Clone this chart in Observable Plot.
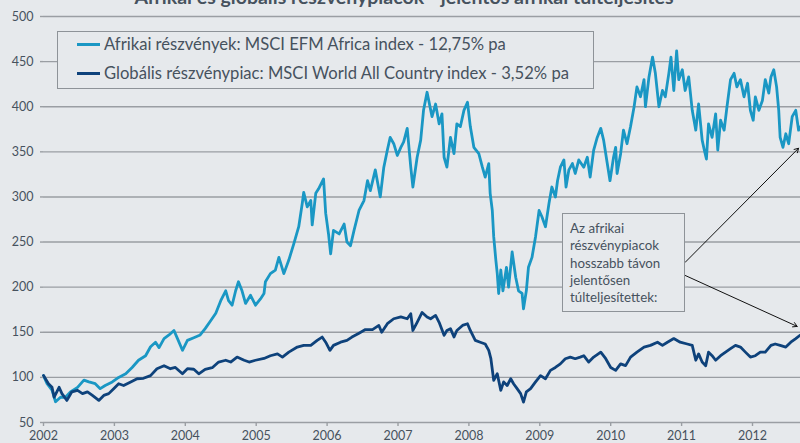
<!DOCTYPE html>
<html><head><meta charset="utf-8">
<script src="https://cdn.jsdelivr.net/npm/d3@7"></script>
<script src="https://cdn.jsdelivr.net/npm/@observablehq/plot@0.6"></script>
<style>
html,body{margin:0;padding:0;background:#e6e9ec;}
#wrap{position:relative;width:800px;height:443px;overflow:hidden;font-family:Lato,"Open Sans",sans-serif;color:#46525e;}
#wrap svg{position:absolute;left:0;top:0;}
.box{position:absolute;border:1.5px solid #8e9398;background:#e6e9ec;box-sizing:border-box;}
.title{position:absolute;left:0;width:808px;text-align:center;top:-13px;font-weight:bold;font-size:19.5px;line-height:20px;color:#46525e;white-space:nowrap;}
.leg{position:absolute;left:77px;font-size:16.6px;line-height:20px;white-space:nowrap;}
.sw{display:inline-block;width:23px;height:3px;vertical-align:middle;margin-right:4px;position:relative;top:-1px;}
.note{position:absolute;font-size:13.3px;line-height:17.3px;}
</style></head><body><div id="wrap"></div>
<script>
const title = "Afrikai és globális részvénypiacok - jelentős afrikai túlteljesítés";
const seriesNames = [
  "Afrikai részvények: MSCI EFM Africa index - 12,75% pa",
  "Globális részvénypiac: MSCI World All Country index - 3,52% pa"
];
const noteLines = ["Az afrikai", "részvénypiacok", "hosszabb távon", "jelentősen", "túlteljesítettek:"];
const yearTicks = [2002, 2003, 2004, 2005, 2006, 2007, 2008, 2009, 2010, 2011, 2012];
const valueTicks = [50, 100, 150, 200, 250, 300, 350, 400, 450, 500];
const xEnd = 2012.677;

// [decimal year, index value]
const africa = [
[2002.00,102],[2002.05,93],[2002.12,86],[2002.17,73],[2002.24,78],[2002.31,78],[2002.38,84],[2002.48,89],[2002.57,97],[2002.64,95],
[2002.73,93],[2002.80,87.5],[2002.87,91],[2002.97,95],[2003.06,100],[2003.16,104],[2003.25,111],[2003.34,119],[2003.44,124],[2003.51,134],
[2003.58,139],[2003.63,133],[2003.70,143],[2003.77,147],[2003.84,152],[2003.89,143],[2003.96,130],[2004.03,141],[2004.12,144],[2004.21,147],
[2004.28,154],[2004.36,163],[2004.43,171],[2004.50,185],[2004.57,196],[2004.61,185],[2004.66,180],[2004.71,196],[2004.75,206],[2004.80,196],
[2004.85,182],[2004.92,191],[2004.99,180],[2005.06,187],[2005.11,193],[2005.13,206],[2005.20,215],[2005.27,219],[2005.32,233],[2005.39,215],
[2005.46,230],[2005.53,248],[2005.60,267],[2005.65,293],[2005.67,305],[2005.72,289],[2005.77,296],[2005.79,269],[2005.84,304],[2005.88,309],
[2005.95,320],[2005.98,282],[2006.02,259],[2006.05,237],[2006.09,263],[2006.17,259],[2006.24,270],[2006.28,250],[2006.33,246],[2006.38,263],
[2006.45,285],[2006.52,296],[2006.57,318],[2006.61,307],[2006.68,330],[2006.75,300],[2006.80,333],[2006.85,352],[2006.89,366],[2006.94,359],
[2006.99,346],[2007.04,355],[2007.08,361],[2007.13,376],[2007.18,333],[2007.21,311],[2007.27,344],[2007.32,363],[2007.36,396],[2007.41,416],
[2007.48,389],[2007.53,403],[2007.58,381],[2007.62,392],[2007.65,344],[2007.69,333],[2007.74,366],[2007.79,348],[2007.83,381],[2007.88,378],
[2007.93,396],[2007.98,405],[2008.02,378],[2008.07,355],[2008.14,348],[2008.19,333],[2008.23,322],[2008.28,337],[2008.30,304],[2008.33,285],
[2008.35,256],[2008.38,230],[2008.40,215],[2008.42,193],[2008.45,219],[2008.48,196],[2008.53,222],[2008.56,200],[2008.61,239],[2008.66,211],
[2008.70,196],[2008.75,193],[2008.77,176],[2008.81,196],[2008.84,222],[2008.89,233],[2008.94,256],[2008.99,285],[2009.03,278],[2009.08,267],
[2009.13,293],[2009.17,311],[2009.22,300],[2009.25,318],[2009.29,333],[2009.34,341],[2009.37,311],[2009.41,330],[2009.46,337],[2009.50,326],
[2009.55,341],[2009.62,333],[2009.67,344],[2009.71,322],[2009.76,352],[2009.81,366],[2009.86,376],[2009.90,363],[2009.95,338],[2009.99,318],
[2010.04,344],[2010.07,355],[2010.09,326],[2010.14,348],[2010.18,374],[2010.23,359],[2010.28,378],[2010.33,400],[2010.37,422],[2010.42,411],
[2010.47,430],[2010.49,400],[2010.54,433],[2010.59,455],[2010.63,437],[2010.68,400],[2010.73,418],[2010.77,411],[2010.82,437],[2010.85,455],
[2010.89,418],[2010.93,462],[2010.96,430],[2011.01,441],[2011.05,418],[2011.10,433],[2011.15,396],[2011.20,374],[2011.24,403],[2011.29,363],
[2011.32,352],[2011.35,342],[2011.38,381],[2011.43,366],[2011.48,392],[2011.51,352],[2011.55,385],[2011.60,374],[2011.64,400],[2011.69,430],
[2011.74,437],[2011.78,422],[2011.83,430],[2011.88,411],[2011.93,426],[2011.97,396],[2012.01,385],[2012.04,411],[2012.09,396],[2012.14,407],
[2012.18,430],[2012.23,415],[2012.26,433],[2012.30,441],[2012.34,422],[2012.37,396],[2012.39,366],[2012.43,355],[2012.47,370],[2012.51,359],
[2012.56,389],[2012.61,396],[2012.65,374],[2012.68,378]
];

const world = [
[2002.00,102],[2002.07,93],[2002.12,89],[2002.15,78],[2002.22,89],[2002.26,82],[2002.33,74.5],[2002.40,84],[2002.48,85.6],[2002.55,82],
[2002.62,84],[2002.69,80],[2002.78,74.5],[2002.85,80],[2002.92,82],[2002.99,87.5],[2003.06,93],[2003.13,91],[2003.23,95],[2003.32,98.5],
[2003.41,99],[2003.51,102],[2003.60,109.6],[2003.70,113],[2003.79,109.6],[2003.86,111],[2003.96,104],[2004.03,109.6],[2004.12,109],[2004.19,104],
[2004.28,109],[2004.38,110.7],[2004.47,117],[2004.57,119],[2004.64,117],[2004.73,122.5],[2004.83,119],[2004.90,117],[2004.99,119],[2005.11,121],
[2005.20,124],[2005.30,126],[2005.37,122.5],[2005.46,128],[2005.58,133.6],[2005.67,135.5],[2005.77,135.5],[2005.86,141],[2005.93,144.7],[2005.98,139],
[2006.04,130],[2006.09,135.5],[2006.19,139],[2006.28,141],[2006.35,144.7],[2006.45,149],[2006.54,153],[2006.64,153],[2006.73,157.6],[2006.77,150],
[2006.85,159.5],[2006.94,165],[2007.04,167],[2007.13,165],[2007.18,170.6],[2007.21,152],[2007.27,161],[2007.34,172],[2007.41,167],[2007.46,165],
[2007.53,168.7],[2007.58,161],[2007.65,146.6],[2007.69,152],[2007.74,154],[2007.79,144.7],[2007.83,152],[2007.91,157.6],[2007.98,159.5],[2008.02,152],
[2008.09,141],[2008.16,139],[2008.23,137],[2008.28,130],[2008.31,120.7],[2008.35,96.7],[2008.40,104],[2008.45,85.6],[2008.49,95],[2008.54,91],
[2008.59,98.5],[2008.63,93],[2008.68,87.5],[2008.73,82],[2008.77,72.6],[2008.81,84],[2008.87,87.5],[2008.94,95],[2009.01,102],[2009.08,98.5],
[2009.15,107.8],[2009.22,111],[2009.29,115],[2009.36,120.7],[2009.43,122.5],[2009.50,120.7],[2009.57,122.5],[2009.62,124],[2009.69,117],[2009.76,122.5],
[2009.86,128],[2009.93,120.7],[2010.00,111],[2010.07,107.8],[2010.14,115],[2010.21,113],[2010.28,122.5],[2010.37,128],[2010.47,133.6],[2010.56,135.5],
[2010.66,139],[2010.73,135.5],[2010.80,139],[2010.89,143],[2010.98,139],[2011.08,137],[2011.15,135.5],[2011.20,119],[2011.24,126],[2011.29,117],
[2011.34,113],[2011.38,128],[2011.43,124],[2011.48,119],[2011.55,124],[2011.62,128],[2011.69,131.8],[2011.76,135.5],[2011.83,133.6],[2011.90,128],
[2011.97,122.5],[2012.04,124],[2012.11,128],[2012.18,128],[2012.26,135.5],[2012.32,137],[2012.39,135.5],[2012.47,133.6],[2012.54,139],[2012.61,143],
[2012.67,146.6]
];

// annotation arrows in data units: from note box edge to the series
const arrows = [
  {x1: 2011.05, y1: 227.5, x2: 2012.65, y2: 354},
  {x1: 2011.05, y1: 213, x2: 2012.63, y2: 156.5}
];

const colors = ["#1a97c4", "#0e427b"];
const textColor = "#46525e";
const gridColor = "#9a9ea3";

const toRows = arr => arr.map(([t, v]) => ({t, v}));

const chart = Plot.plot({
  width: 800, height: 443,
  marginTop: 16, marginBottom: 21, marginLeft: 43, marginRight: 0,
  style: {background: "transparent", fontFamily: "Lato, 'Open Sans', sans-serif", fontSize: "12.5px", color: textColor, overflow: "visible"},
  x: {domain: [2002, xEnd]},
  y: {domain: [50, 500]},
  marks: [
    Plot.ruleY(valueTicks, {stroke: gridColor, strokeWidth: 1.4}),
    Plot.line(toRows(africa), {x: "t", y: "v", stroke: colors[0], strokeWidth: 2.8, strokeLinejoin: "round"}),
    Plot.line(toRows(world), {x: "t", y: "v", stroke: colors[1], strokeWidth: 2.8, strokeLinejoin: "round"}),
    Plot.arrow(arrows, {x1: "x1", y1: "y1", x2: "x2", y2: "y2", stroke: "#111", strokeWidth: 1, headLength: 7}),
    Plot.axisY({ticks: valueTicks, tickSize: 3, tickPadding: 7, stroke: gridColor, fill: textColor, strokeWidth: 1.4, fontSize: 12.5}),
    Plot.axisX({ticks: yearTicks, tickFormat: d => String(d), tickSize: 4, tickPadding: 5, stroke: gridColor, fill: textColor, strokeWidth: 1.4, fontSize: 12.5})
  ]
});

const wrap = document.getElementById("wrap");
wrap.appendChild(chart);

const t = document.createElement("div");
t.className = "title"; t.textContent = title; wrap.appendChild(t);

const legend = document.createElement("div");
legend.className = "box";
Object.assign(legend.style, {left: "57px", top: "31px", width: "537px", height: "58px"});
wrap.appendChild(legend);
seriesNames.forEach((name, i) => {
  const d = document.createElement("div");
  d.className = "leg";
  d.style.top = (i === 0 ? 34 : 63) + "px";
  d.innerHTML = `<span class="sw" style="background:${colors[i]}"></span>`;
  d.appendChild(document.createTextNode(name));
  wrap.appendChild(d);
});

const note = document.createElement("div");
note.className = "box";
Object.assign(note.style, {left: "562px", top: "213px", width: "123px", height: "99px"});
wrap.appendChild(note);
const nt = document.createElement("div");
nt.className = "note";
Object.assign(nt.style, {left: "570px", top: "220px"});
nt.innerHTML = noteLines.join("<br>");
wrap.appendChild(nt);
</script>
</body></html>
